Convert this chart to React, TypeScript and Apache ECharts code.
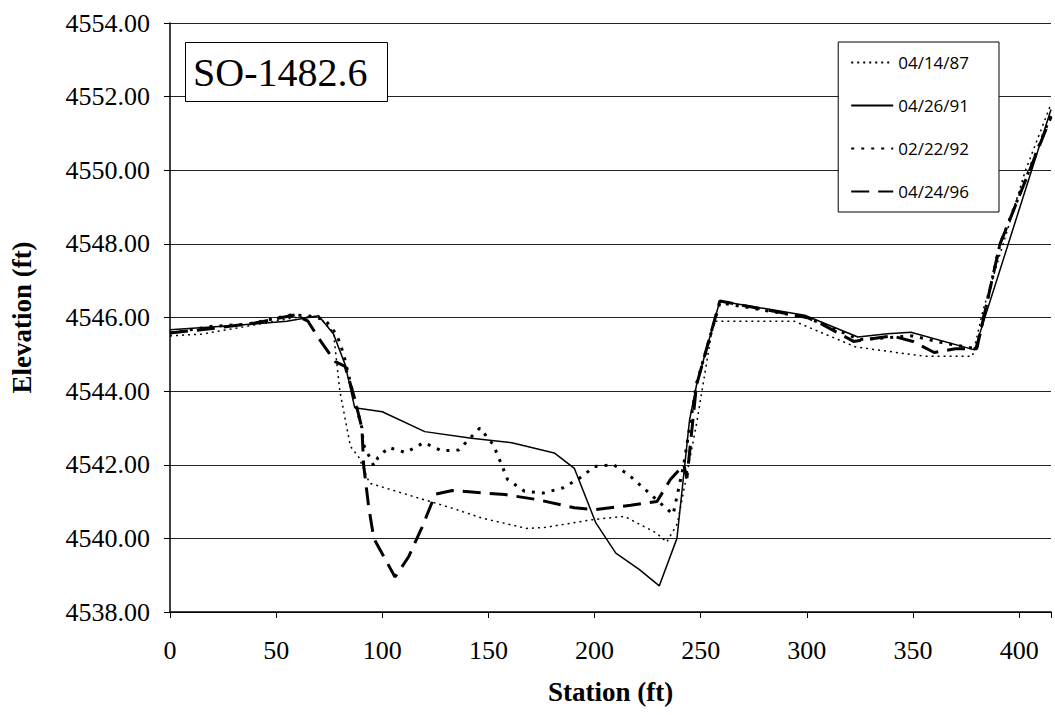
import React, { useEffect, useRef } from "react";
import * as echarts from "echarts";

const seriesNames = ["04/14/87", "04/26/91", "02/22/92", "04/24/96"];

const station87 = [0, 15, 40, 59, 70, 77, 80, 85, 89, 94, 134, 147, 168, 177, 198, 214, 229, 234, 239, 248, 256, 294, 323, 355, 378, 383, 403, 415];
const elev87 = [4545.5, 4545.55, 4545.8, 4546.0, 4546.03, 4545.6, 4544.0, 4542.5, 4542.2, 4541.5, 4540.8, 4540.55, 4540.27, 4540.3, 4540.5, 4540.6, 4540.15, 4539.9, 4540.4, 4543.1, 4545.9, 4545.9, 4545.2, 4544.95, 4544.95, 4546.2, 4550.0, 4551.8];

const station91 = [0, 30, 55, 70, 77, 82.5, 87, 100, 120, 142, 161, 181, 190.5, 200.6, 210, 221, 230.5, 238.8, 244.7, 248, 259, 299, 324, 338, 349, 379, 415];
const elev91 = [4545.67, 4545.78, 4545.9, 4546.05, 4545.55, 4544.72, 4543.55, 4543.44, 4542.9, 4542.72, 4542.6, 4542.32, 4541.9, 4540.42, 4539.6, 4539.16, 4538.71, 4540.0, 4543.2, 4544.16, 4546.45, 4546.06, 4545.47, 4545.56, 4545.6, 4545.12, 4551.65];

const station92 = [0, 20, 37, 57, 65, 73, 78.6, 81.8, 86.5, 90.4, 91, 96, 98, 103, 111, 119.5, 128, 136, 146, 152.3, 155.5, 159, 167, 175.7, 185, 193, 200, 209, 216, 223, 237, 242, 248, 259, 300, 325, 350, 365, 380, 391, 415];
const elev92 = [4545.58, 4545.76, 4545.82, 4546.07, 4546.05, 4545.94, 4545.53, 4545.0, 4543.86, 4543.0, 4542.56, 4541.97, 4542.2, 4542.47, 4542.33, 4542.6, 4542.38, 4542.4, 4543.0, 4542.54, 4542.1, 4541.6, 4541.28, 4541.23, 4541.37, 4541.64, 4541.95, 4542.0, 4541.73, 4541.37, 4540.65, 4542.0, 4544.2, 4546.4, 4546.0, 4545.4, 4545.5, 4545.3, 4545.15, 4548.0, 4551.5];

const station96 = [0, 20, 40, 59, 65, 70, 77.8, 82.5, 86.5, 90.4, 91.2, 93.6, 96, 106, 112.4, 118.7, 125, 133, 157.8, 173.4, 190.5, 200.6, 217, 229.4, 235.7, 242, 243.5, 248, 259, 300, 307.7, 322, 340, 350, 360, 370, 380, 391, 415];
const elev96 = [4545.58, 4545.7, 4545.85, 4546.07, 4545.9, 4545.44, 4544.8, 4544.67, 4543.9, 4543.0, 4542.0, 4540.85, 4540.0, 4538.95, 4539.5, 4540.3, 4541.2, 4541.3, 4541.19, 4541.05, 4540.83, 4540.78, 4540.9, 4541.0, 4541.6, 4542.0, 4541.64, 4544.16, 4546.45, 4546.0, 4545.8, 4545.35, 4545.5, 4545.35, 4545.05, 4545.15, 4545.15, 4548.0, 4551.45];

const xTicks = [0, 50, 100, 150, 200, 250, 300, 350, 400];

const zip = (xs: number[], ys: number[]) => xs.map((x, i) => [x, ys[i]]);

const SERIF = "'Liberation Serif', 'Times New Roman', serif";

export default function App() {
  const ref = useRef<HTMLDivElement>(null);
  useEffect(() => {
    if (!ref.current) return;
    const chart = echarts.init(ref.current, undefined, { renderer: "svg" });
    const styles = [
      { type: [2, 4], width: 1.5 },
      { type: "solid", width: 1.5 },
      { type: [3, 7], width: 3 },
      { type: [18, 9], width: 3 },
    ];
    const datas = [zip(station87, elev87), zip(station91, elev91), zip(station92, elev92), zip(station96, elev96)];
    chart.setOption({
      animation: false,
      backgroundColor: "#fff",
      grid: { left: 163, right: 4, top: 23, bottom: 103, containLabel: false },
      title: {
        text: "SO-1482.6",
        left: 185,
        top: 42,
        padding: [10, 20, 10, 8],
        borderColor: "#000",
        borderWidth: 1,
        backgroundColor: "#fff",
        textStyle: { fontFamily: SERIF, fontSize: 40, fontWeight: "normal", color: "#000" },
      },
      legend: {
        orient: "vertical",
        right: 56,
        top: 42,
        itemWidth: 42,
        itemHeight: 14,
        itemGap: 26,
        padding: [12, 30, 12, 12],
        backgroundColor: "#fff",
        borderColor: "#000",
        borderWidth: 1,
        itemStyle: { opacity: 0 },
        textStyle: { fontFamily: "'Open Sans', sans-serif", fontSize: 17, color: "#000" },
        data: seriesNames,
      },
      xAxis: {
        type: "value",
        min: 0,
        max: 415,
        interval: 50,
        name: "Station (ft)",
        nameLocation: "middle",
        nameGap: 66,
        nameTextStyle: { fontFamily: SERIF, fontSize: 27, fontWeight: "bold", color: "#000" },
        axisLine: { lineStyle: { color: "#000", width: 1.5 } },
        axisTick: { show: true, inside: false, length: 6, lineStyle: { color: "#000" } },
        axisLabel: {
          fontFamily: SERIF,
          fontSize: 26,
          color: "#000",
          margin: 25,
          formatter: (v: number) => (xTicks.includes(v) ? String(v) : ""),
        },
        splitLine: { show: false },
      },
      yAxis: {
        type: "value",
        min: 4538,
        max: 4554,
        interval: 2,
        name: "Elevation (ft)",
        nameLocation: "middle",
        nameGap: 135,
        nameTextStyle: { fontFamily: SERIF, fontSize: 27, fontWeight: "bold", color: "#000" },
        axisLine: { show: true, lineStyle: { color: "#000", width: 1.5 } },
        axisTick: { show: true, inside: false, length: 6, lineStyle: { color: "#000" } },
        axisLabel: {
          fontFamily: SERIF,
          fontSize: 26,
          color: "#000",
          margin: 20,
          formatter: (v: number) => v.toFixed(2),
        },
        splitLine: { show: true, lineStyle: { color: "#222", width: 1 } },
      },
      series: seriesNames.map((name, i) => ({
        name,
        type: "line",
        data: datas[i],
        symbol: "none",
        showSymbol: false,
        lineStyle: { color: "#000", type: styles[i].type, width: styles[i].width, cap: "butt" },
        itemStyle: { color: "#000" },
        z: 2 + i,
      })),
    });
    return () => chart.dispose();
  }, []);
  return <div ref={ref} style={{ width: 1055, height: 715, position: "absolute", left: 0, top: 0 }} />;
}
